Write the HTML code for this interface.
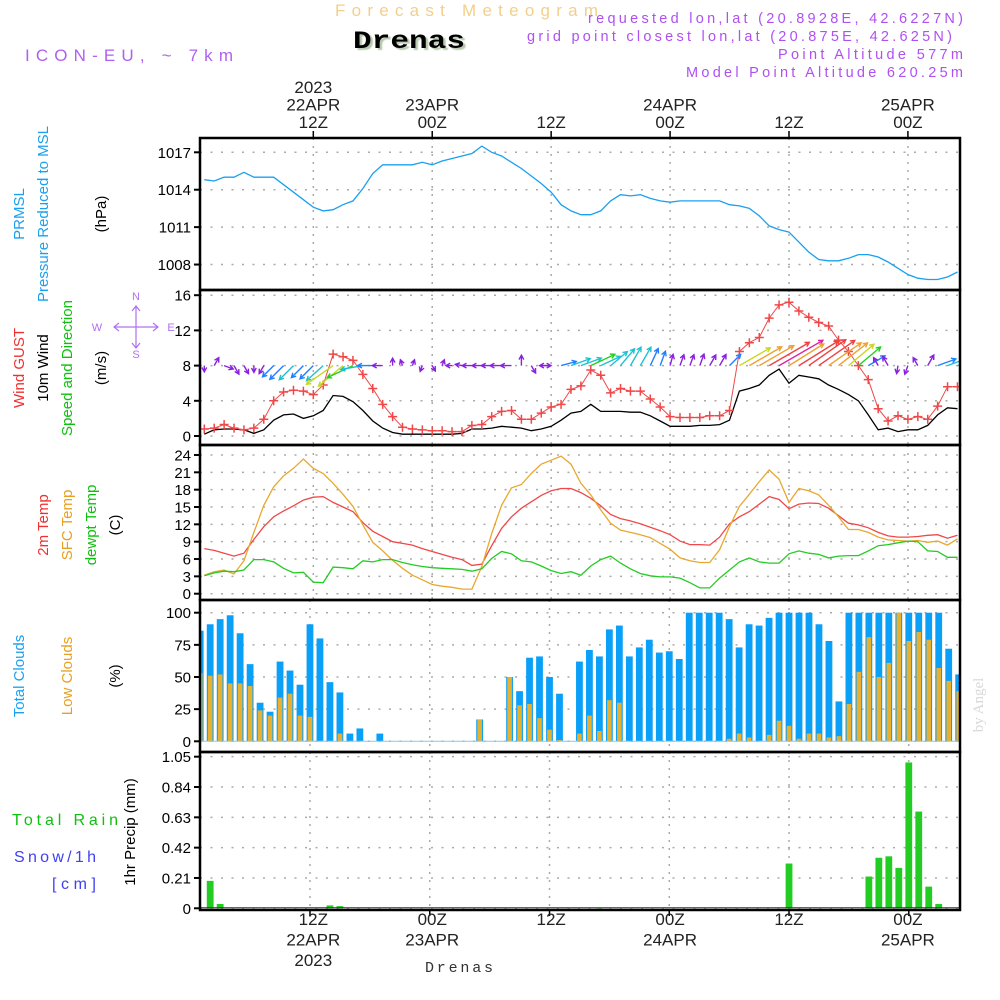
<!DOCTYPE html>
<html><head><meta charset="utf-8"><style>
html,body{margin:0;padding:0;background:#fff;}
svg{display:block;font-family:"Liberation Sans",sans-serif;}
</style></head><body>
<svg id="chart" width="1000" height="1000" viewBox="0 0 1000 1000" xmlns="http://www.w3.org/2000/svg">
<defs><clipPath id="plotclip"><rect x="200" y="138" width="760" height="772"/></clipPath></defs>
<text x="335" y="16" font-size="17" fill="#f3cf8c" textLength="263">Forecast Meteogram</text>
<text x="353" y="48" font-family="Liberation Mono,monospace" font-weight="bold" font-size="25" fill="#000" style="text-shadow:2px 2px 1px #b8c8b0" textLength="112" lengthAdjust="spacingAndGlyphs">Drenas</text>
<text x="25" y="61" font-size="17" fill="#b060f0" textLength="208">ICON-EU, ~ 7km</text>
<g font-size="14.5" fill="#b050f0" text-anchor="end">
<text x="963" y="23" textLength="375">requested lon,lat (20.8928E, 42.6227N)</text>
<text x="952" y="41" textLength="425">grid point closest lon,lat (20.875E, 42.625N)</text>
<text x="963" y="59" textLength="185">Point Altitude 577m</text>
<text x="963" y="77" textLength="277">Model Point Altitude 620.25m</text>
</g>
<g id="grid"></g>
<g id="marks" clip-path="url(#plotclip)"></g>
<g id="frame"></g>
<g id="axes" font-size="15" fill="#000"></g>
<g font-size="15">
<text transform="translate(24,214) rotate(-90)" text-anchor="middle" fill="#1aa0f0">PRMSL</text>
<text transform="translate(48,214) rotate(-90)" text-anchor="middle" fill="#1aa0f0">Pressure Reduced to MSL</text>
<text transform="translate(106,214) rotate(-90)" text-anchor="middle" fill="#000">(hPa)</text>
<text transform="translate(24,368) rotate(-90)" text-anchor="middle" fill="#f03030">Wind GUST</text>
<text transform="translate(48,368) rotate(-90)" text-anchor="middle" fill="#000">10m Wind</text>
<text transform="translate(72,368) rotate(-90)" text-anchor="middle" fill="#10c010">Speed and Direction</text>
<text transform="translate(106,368) rotate(-90)" text-anchor="middle" fill="#000">(m/s)</text>
<g fill="#b070f0" stroke="none" font-size="11" text-anchor="middle">
<text x="97" y="331">W</text><text x="136" y="300">N</text><text x="136" y="358">S</text><text x="171" y="331">E</text>
<g stroke="#b070f0" stroke-width="1.2" fill="none"><path d="M114 327H158M136 306V348M119 323L114 327L119 331M153 323L158 327L153 331M132 311L136 306L140 311M132 343L136 348L140 343"/></g>
</g>
<text transform="translate(48,525) rotate(-90)" text-anchor="middle" fill="#f03030">2m Temp</text>
<text transform="translate(72,525) rotate(-90)" text-anchor="middle" fill="#e8a020">SFC Temp</text>
<text transform="translate(96,525) rotate(-90)" text-anchor="middle" fill="#10c010">dewpt Temp</text>
<text transform="translate(120,525) rotate(-90)" text-anchor="middle" fill="#000">(C)</text>
<text transform="translate(24,676) rotate(-90)" text-anchor="middle" fill="#1aa0f0">Total Clouds</text>
<text transform="translate(72,676) rotate(-90)" text-anchor="middle" fill="#e8a020">Low Clouds</text>
<text transform="translate(120,676) rotate(-90)" text-anchor="middle" fill="#000">(%)</text>
<text x="12" y="825" fill="#10c010" font-size="16" textLength="106">Total   Rain</text>
<text x="14" y="862" fill="#4040f0" font-size="16" textLength="82">Snow/1h</text>
<text x="52" y="889" fill="#4040f0" font-size="16" textLength="44">[cm]</text>
<text transform="translate(135,832) rotate(-90)" text-anchor="middle" fill="#000">1hr Precip (mm)</text>
</g>
<text transform="translate(983,705) rotate(-90)" text-anchor="middle" font-family="Liberation Serif,serif" font-size="15" fill="#d8d8d8">by Angel</text>
<text x="425" y="972" font-family="Liberation Mono,monospace" font-size="15" fill="#333" textLength="68">Drenas</text>
</svg>
<script>
const pressure=[1014.8,1014.7,1015.0,1015.0,1015.4,1015.0,1015.0,1015.0,1014.4,1013.8,1013.2,1012.6,1012.3,1012.4,1012.8,1013.1,1014.1,1015.3,1016.0,1016.0,1016.0,1016.0,1016.2,1016.0,1016.3,1016.5,1016.7,1016.9,1017.5,1017.0,1016.7,1016.2,1015.7,1015.1,1014.5,1013.8,1012.8,1012.3,1012.0,1012.0,1012.3,1013.1,1013.6,1013.5,1013.6,1013.3,1013.1,1013.0,1013.1,1013.1,1013.1,1013.1,1013.1,1012.8,1012.7,1012.5,1011.9,1011.1,1010.8,1010.6,1009.8,1009.0,1008.4,1008.3,1008.3,1008.5,1008.8,1008.8,1008.6,1008.2,1007.7,1007.2,1006.9,1006.8,1006.8,1007.0,1007.4];
const wind10m=[0.2,0.7,0.8,0.8,0.7,0.3,0.7,1.8,2.4,2.5,2.0,2.3,2.9,4.6,4.5,3.9,2.9,1.7,0.9,0.4,0.2,0.2,0.2,0.2,0.2,0.2,0.3,0.8,0.8,0.9,1.1,1.0,0.9,0.6,0.8,1.1,1.8,2.6,2.8,3.6,2.8,2.8,2.8,2.7,2.7,2.3,1.7,1.1,1.1,1.1,1.2,1.2,1.3,1.8,5.1,5.4,5.8,6.9,7.6,6.0,6.9,6.7,6.5,5.8,5.3,4.7,4.0,2.4,0.7,0.9,0.5,0.7,0.7,1.2,2.4,3.2,3.1];
const windGust=[0.8,0.9,1.3,0.9,0.7,0.9,1.9,4.0,5.0,5.2,5.1,4.7,5.8,9.3,9.0,8.6,7.0,5.4,3.6,2.2,1.0,0.8,0.7,0.6,0.6,0.5,0.5,1.2,1.3,2.2,2.8,2.9,1.9,1.9,2.6,3.3,3.6,5.3,5.7,7.5,6.9,4.9,5.4,5.1,5.1,4.2,3.3,2.2,2.1,2.1,2.1,2.3,2.3,2.9,9.6,10.6,11.2,13.4,14.9,15.2,14.2,13.5,12.9,12.5,10.9,9.6,8.0,6.4,3.1,1.7,2.3,1.9,2.2,1.9,3.4,5.6,5.6];
const windDir=[270,60,340,300,300,270,240,225,225,225,225,225,222,215,220,205,190,180,180,90,110,70,250,300,70,180,170,180,180,180,180,180,90,300,0,180,15,20,20,25,25,40,50,60,60,65,70,75,70,70,70,60,60,45,30,30,30,30,30,32,32,35,35,35,38,40,40,30,120,120,260,250,120,60,20,20,20];
const temp2m=[7.8,7.5,7.0,6.5,7.0,9.4,11.6,13.3,14.3,15.2,16.2,16.7,16.8,15.8,15.0,14.2,12.3,10.8,9.9,9.0,8.7,8.4,7.8,7.3,6.8,6.3,5.9,4.9,5.1,8.3,11.3,13.3,14.8,15.9,17.0,17.8,18.2,18.2,17.5,16.5,15.2,13.7,13.0,12.6,12.1,11.5,10.9,10.2,9.1,8.5,8.5,8.4,9.8,12.1,13.3,14.2,15.5,16.8,16.3,14.7,15.5,15.7,15.6,14.8,13.5,12.2,11.9,11.4,10.6,10.0,9.8,9.8,9.9,10.1,10.2,9.6,10.1];
const tempSfc=[3.2,3.8,4.1,3.4,5.7,10.6,15.3,18.5,20.4,21.7,23.3,21.7,20.8,19.1,17.2,15.1,11.9,8.9,7.4,5.8,4.4,3.2,2.4,1.6,1.3,1.1,0.8,0.8,4.7,10.4,15.3,18.3,18.9,20.8,22.4,23.1,23.8,22.4,19.1,17.1,14.5,12.2,11.0,10.6,10.2,9.7,8.7,7.7,6.2,5.7,5.4,5.4,7.6,11.6,15.1,17.2,19.4,21.4,19.8,15.8,18.2,17.8,17.1,15.3,13.3,11.1,11.1,10.6,9.8,9.3,9.2,9.1,9.2,8.9,9.1,8.4,9.5];
const dewpt=[3.1,3.6,3.9,3.8,4.1,5.9,5.9,5.5,4.4,3.6,3.7,2.0,1.9,4.6,4.5,4.3,5.7,5.5,5.9,5.9,5.4,5.0,4.7,4.5,4.4,4.3,4.2,3.9,4.3,6.1,7.3,6.9,5.7,5.5,4.8,4.0,3.5,3.8,3.2,4.8,5.9,6.5,5.3,4.3,3.5,3.1,2.9,2.9,2.7,1.9,1.0,1.0,2.7,4.1,5.5,6.2,5.5,5.3,5.3,6.9,7.4,7.0,6.8,6.2,6.5,6.6,6.6,7.4,8.3,8.5,8.8,9.1,9.0,7.4,7.3,6.3,6.3];
const totalClouds=[86,91,95,98,84,60,30,23,62,55,44,91,80,46,38,6,10,0,6,0,0,0,0,0,0,0,0,0,17,0,0,50,39,65,66,50,37,0,62,71,66,87,90,66,73,79,69,70,64,100,100,100,100,95,73,91,90,96,100,100,100,100,91,78,31,100,100,100,100,100,100,100,100,100,100,72,52];
const lowClouds=[53,51,52,45,45,43,24,20,34,37,20,19,0,0,6,0,0,0,0,0,0,0,0,0,0,0,0,0,17,0,0,50,28,29,18,9,1,0,6,20,8,32,30,0,0,0,0,0,0,0,0,0,0,2,6,3,0,5,16,12,2,6,6,3,4,29,54,81,50,61,100,78,85,79,57,47,39];
const precip=[0,0.19,0.03,0,0,0,0,0,0,0,0,0,0,0.02,0.015,0,0,0,0,0,0,0,0,0,0,0,0,0,0,0,0,0,0,0,0,0,0,0,0,0,0.005,0,0,0,0,0,0,0,0,0,0,0,0,0,0,0,0,0,0,0.31,0,0,0,0,0,0,0,0.22,0.35,0.36,0.28,1.01,0.67,0.15,0.03,0,0];
const pressureTicks=[1017,1014,1011,1008];
const windTicks=[16,12,8,4,0];
const tempTicks=[24,21,18,15,12,9,6,3,0];
const cloudTicks=[100,75,50,25,0];
const precipTicks=[1.05,0.84,0.63,0.42,0.21,0];
const timeIdx=[11,23,35,47,59,71];
const timeTopLabels=[["2023","22APR","12Z"],["","23APR","00Z"],["","","12Z"],["","24APR","00Z"],["","","12Z"],["","25APR","00Z"]];
const timeBottomLabels=[["12Z","22APR","2023"],["00Z","23APR",""],["12Z","",""],["00Z","24APR",""],["12Z","",""],["00Z","25APR",""]];

const NS="http://www.w3.org/2000/svg";
const xL=n=>204.3+9.91*n;
const xB=k=>200.2+9.98*k;
const yP=v=>152.3+(1017-v)*12.47;
const yW=v=>436-v*8.8;
const yT=v=>593.7-v*5.78;
const yC=v=>741.3-v*1.286;
const yR=v=>908.3-v*144.4;
function mk(tag,attrs,parent){const e=document.createElementNS(NS,tag);for(const k in attrs)e.setAttribute(k,attrs[k]);parent.appendChild(e);return e;}
const grid=document.getElementById('grid'),marks=document.getElementById('marks'),frame=document.getElementById('frame'),axes=document.getElementById('axes');
const panels=[[138,290],[290,445],[445,600],[600,752],[752,910]];
const dash={stroke:"#aaa","stroke-width":1.5,"stroke-dasharray":"2,8.5",fill:"none"};
function hgrid(ticks,fy){ticks.forEach(t=>{const y=fy(t);
 const g=mk('line',Object.assign({x1:200,x2:960,y1:y,y2:y},dash),grid);
 
 
 const tk=mk('line',{x1:194,x2:200,y1:y,y2:y,stroke:"#000","stroke-width":2},axes);
 
 
 const tx=mk('text',{x:191,y:y+5.5,"text-anchor":"end","font-size":15},axes);
 tx.textContent=String(t);
 
 
});}
hgrid(pressureTicks,yP);hgrid(windTicks,yW);hgrid(tempTicks,yT);hgrid(cloudTicks,yC);hgrid(precipTicks,yR);
panels.forEach((p,i)=>{timeIdx.forEach(n=>{const x=i<3?xL(n):xB(n);
 const v=mk('line',Object.assign({x1:x,x2:x,y1:p[0],y2:p[1]},dash,{"stroke-dasharray":"2,6"}),grid);
 
 
});
 const r=mk('rect',{x:200,y:p[0],width:760,height:p[1]-p[0],fill:"none",stroke:"#000","stroke-width":2.5},frame);
 
 
});
timeIdx.forEach((n,i)=>{const x=xL(n);
 mk('line',{x1:x,x2:x,y1:131,y2:138,stroke:"#000","stroke-width":1.5},axes);
 mk('line',{x1:xB(n),x2:xB(n),y1:910,y2:916,stroke:"#000","stroke-width":1.5},axes);
 timeTopLabels[i].forEach((s,j)=>{if(!s)return;const t=mk('text',{x:x,y:93+j*17.5,"text-anchor":"middle","font-size":17,fill:"#222"},axes);t.textContent=s;
  
  });
 timeBottomLabels[i].forEach((s,j)=>{if(!s)return;const t=mk('text',{x:x,y:925+j*20.5,"text-anchor":"middle","font-size":17,fill:"#222"},axes);t.textContent=s;
  
  });
});
totalClouds.forEach((v,k)=>{if(v<=0)return;const x=xB(k);
 const b=mk('rect',{x:x-3.4,y:yC(v),width:6.8,height:yC(0)-yC(v),fill:"#0aa0f8"},marks);
 
 });
lowClouds.forEach((v,k)=>{if(v<=0)return;const x=xB(k);
 const b=mk('rect',{x:x-2.3,y:yC(v),width:4.6,height:yC(0)-yC(v),fill:"#e8b030"},marks);
 
 });
mk('line',{x1:200,x2:960,y1:yC(0),y2:yC(0),stroke:"#8cc8e8","stroke-width":1},marks);
precip.forEach((v,k)=>{if(v<=0)return;const x=xB(k);
 const b=mk('rect',{x:x-3.4,y:yR(v),width:6.8,height:yR(0)-yR(v),fill:"#22cc22"},marks);
 
 });
mk('line',{x1:200,x2:960,y1:yR(0)-0.5,y2:yR(0)-0.5,stroke:"#333","stroke-width":1},marks);
function line(arr,fy,color,name,w){const d=arr.map((v,n)=>(n?'L':'M')+xL(n).toFixed(1)+' '+fy(v).toFixed(1)).join(' ');
 const p=mk('path',{d:d,fill:"none",stroke:color,"stroke-width":w||1.3},marks);
 
 }
line(pressure,yP,"#1aa0f0","pressure-line");
line(temp2m,yT,"#f04848","temp-2m-line");
line(tempSfc,yT,"#e8a830","sfc-temp-line");
line(dewpt,yT,"#22cc22","dewpt-line");
line(wind10m,yW,"#000","wind-10m-line");
line(windGust,yW,"#f04848","wind-gust-line",1);
windGust.forEach((v,n)=>{const x=xL(n),y=yW(v);
 const g=mk('path',{d:`M${x-4.5} ${y}H${x+4.5}M${x} ${y-4.5}V${y+4.5}`,stroke:"#f04848","stroke-width":1.5},marks);
 
 });
function wcol(s){if(s<1.5)return"#8a20e0";if(s<2.5)return"#2080ff";if(s<3.5)return"#20c0d0";if(s<4.5)return"#20d020";if(s<5.2)return"#c8d820";if(s<6.2)return"#f0a030";if(s<7.2)return"#f04040";return"#e020a0";}
wind10m.forEach((s,n)=>{const x0=xL(n),y0=yW(8);const L=5+s*6;const a=windDir[n]*Math.PI/180;
 const x1=x0+L*Math.cos(a),y1=y0-L*Math.sin(a);const c=wcol(s);
 const h=5,a1=a+Math.PI-0.5,a2=a+Math.PI+0.5;
 const ar=mk('path',{d:`M${x0.toFixed(1)} ${y0.toFixed(1)}L${x1.toFixed(1)} ${y1.toFixed(1)}M${(x1+h*Math.cos(a1)).toFixed(1)} ${(y1-h*Math.sin(a1)).toFixed(1)}L${x1.toFixed(1)} ${y1.toFixed(1)}L${(x1+h*Math.cos(a2)).toFixed(1)} ${(y1-h*Math.sin(a2)).toFixed(1)}`,fill:"none",stroke:c,"stroke-width":1.4},marks);
 
 });
</script>
</body></html>
